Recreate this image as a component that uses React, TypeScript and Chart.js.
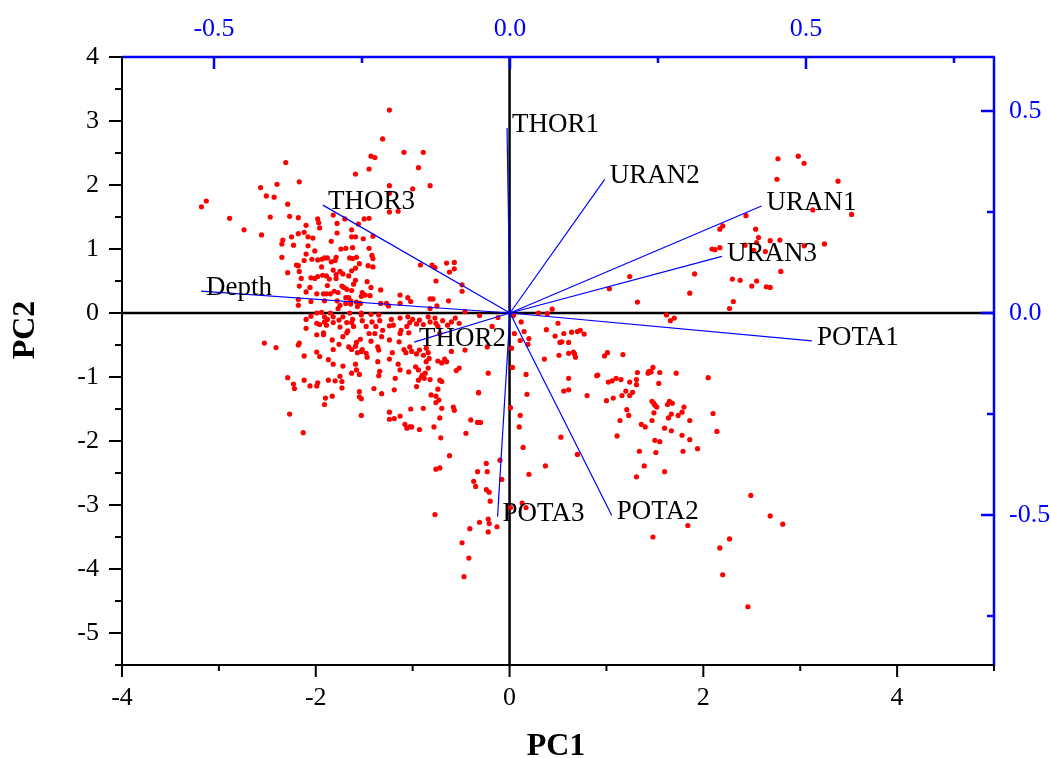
import React, { useEffect, useRef } from 'react';
import { Chart, registerables } from 'chart.js';

Chart.register(...registerables);

// PCA scores (PC1, PC2)
const scores: [number, number][] = [
  [-1.24,3.17],[-1.31,2.72],[-1.09,2.51],[-0.89,2.51],[-1.43,2.45],[-1.39,2.43],[-2.31,2.35],[-0.94,2.27],[-1.45,2.25],[-1.59,2.17],
  [-2.17,2.05],[-2.40,2.01],[-2.57,1.96],[-1.24,1.99],[-0.82,1.99],[-1.00,1.94],[-1.24,1.87],[-2.51,1.83],[-2.43,1.81],[-3.13,1.75],
  [-3.18,1.66],[-2.29,1.70],[-1.24,1.58],[-1.15,1.59],[-1.82,1.53],[-2.89,1.48],[-2.47,1.50],[-2.27,1.51],[-2.18,1.49],[-1.45,1.48],
  [-1.50,1.47],[-1.56,1.39],[-1.98,1.47],[-1.97,1.41],[-2.10,1.37],[-1.78,1.40],[-1.70,1.47],[-2.74,1.30],[-2.56,1.22],[-1.96,1.33],
  [-1.78,1.25],[-1.63,1.30],[-2.18,1.24],[-2.12,1.26],[-2.08,1.19],[-2.03,1.17],[-2.34,1.14],[-2.35,1.08],[-2.25,1.19],[-2.23,1.06],
  [-1.84,1.12],[-1.63,1.19],[-1.59,1.19],[-1.51,1.16],[-1.41,1.20],[-2.08,1.05],[-2.01,0.97],[-1.74,1.00],[-1.69,1.01],[-1.62,1.02],
  [-1.45,1.01],[-2.10,0.92],[-2.04,0.84],[-2.12,0.82],[-1.98,0.83],[-1.94,0.84],[-1.91,0.86],[-1.88,0.86],[-1.79,0.87],[-1.80,0.82],
  [-1.65,0.86],[-1.62,0.85],[-1.58,0.87],[-1.42,0.90],[-1.41,0.85],[-2.35,0.87],[-2.20,0.75],[-2.18,0.74],[-2.17,0.65],[-1.94,0.72],
  [-1.84,0.80],[-1.82,0.67],[-1.75,0.65],[-1.72,0.61],[-1.79,0.60],[-1.63,0.66],[-1.59,0.70],[-1.55,0.77],[-1.46,0.74],[-1.41,0.72],
  [-2.29,0.63],[-2.15,0.54],[-2.05,0.55],[-2.01,0.54],[-1.98,0.57],[-1.93,0.59],[-1.89,0.58],[-1.86,0.53],[-1.79,0.54],[-1.66,0.58],
  [-1.59,0.51],[-1.61,0.45],[-1.47,0.49],[-2.17,0.42],[-2.06,0.40],[-2.10,0.33],[-1.88,0.43],[-1.73,0.42],[-1.71,0.40],[-1.68,0.37],
  [-1.43,0.40],[-1.33,0.36],[-1.77,0.32],[-1.81,0.34],[-1.63,0.35],[-1.52,0.32],[-1.53,0.26],[-1.49,0.28],[-1.44,0.27],[-1.99,0.30],
  [-1.92,0.30],[-1.89,0.30],[-1.85,0.30],[-1.69,0.24],[-1.66,0.24],[-1.78,0.19],[-1.75,0.12],[-1.77,0.07],[-1.69,0.15],[-1.64,0.19],
  [-1.64,0.14],[-1.58,0.17],[-1.57,0.10],[-1.54,0.15],[-2.05,0.18],[-2.18,0.21],[-2.18,0.12],[-1.91,0.19],[-1.13,0.28],[-1.05,0.24],
  [-1.02,0.18],[-1.33,0.15],[-1.27,0.15],[-1.25,0.11],[-1.13,0.15],[-0.92,0.75],[-0.80,0.75],[-0.77,0.71],[-0.65,0.78],[-0.57,0.79],
  [-0.62,0.64],[-0.57,0.69],[-0.76,0.50],[-0.49,0.44],[-0.49,0.34],[-0.82,0.22],[-0.79,0.22],[-0.75,0.11],[-0.63,0.19],[-0.82,0.07],
  [-1.99,0.00],[-1.94,0.01],[-1.85,0.00],[-1.65,0.00],[-1.53,0.00],[-0.46,0.02],
  [-2.10,-0.10],[-2.05,-0.05],[-1.91,-0.06],[-1.88,-0.10],[-1.82,-0.06],[-1.99,-0.16],[-1.96,-0.18],[-1.91,-0.14],[-1.89,-0.19],[-1.82,-0.15],
  [-1.76,-0.11],[-1.72,-0.06],[-1.68,-0.15],[-1.62,-0.10],[-2.10,-0.24],[-1.99,-0.34],[-1.92,-0.31],[-1.92,-0.34],[-1.75,-0.22],[-1.68,-0.31],
  [-1.63,-0.15],[-1.61,-0.21],[-1.52,-0.12],[-1.48,-0.21],[-1.45,-0.32],[-1.53,-0.03],[-1.43,-0.02],[-1.35,-0.03],[-1.42,-0.14],[-1.38,-0.21],
  [-1.34,-0.12],[-1.31,-0.27],[-1.24,-0.20],[-1.22,-0.10],[-1.20,-0.19],[-1.12,-0.27],[-1.13,-0.08],[-1.05,-0.06],[-1.03,-0.15],[-1.00,-0.10],
  [-0.96,-0.17],[-1.06,-0.21],[-1.04,-0.31],[-0.93,-0.11],[-0.89,-0.18],[-0.84,-0.06],[-0.82,-0.14],[-0.77,-0.08],[-0.76,-0.16],[-0.74,-0.21],
  [-0.72,-0.32],[-0.69,-0.12],[-0.64,-0.19],[-0.60,-0.14],[-0.56,-0.08],[-0.52,-0.16],
  [-2.18,-0.50],[-2.17,-0.47],[-2.53,-0.47],[-2.41,-0.54],[-2.12,-0.67],[-1.99,-0.61],[-1.96,-0.68],[-1.83,-0.42],[-1.82,-0.57],[-1.76,-0.49],
  [-1.72,-0.37],[-1.67,-0.28],[-1.66,-0.53],[-1.63,-0.57],[-1.59,-0.52],[-1.58,-0.46],[-1.53,-0.60],[-1.52,-0.57],[-1.54,-0.41],[-1.47,-0.69],
  [-1.43,-0.44],[-1.39,-0.32],[-1.36,-0.53],[-1.35,-0.58],[-1.32,-0.37],[-1.24,-0.42],[-1.21,-0.62],[-1.24,-0.72],[-1.36,-0.76],[-1.14,-0.45],
  [-1.13,-0.32],[-1.09,-0.57],[-1.07,-0.62],[-1.03,-0.53],[-1.01,-0.60],[-0.96,-0.64],[-0.93,-0.58],[-0.89,-0.66],[-0.86,-0.55],[-0.84,-0.62],
  [-0.97,-0.84],[-0.94,-0.89],[-0.86,-0.76],[-0.84,-0.86],[-0.87,-0.94],[-0.91,-1.00],[-0.94,-1.05],[-0.83,-0.71],[-0.74,-0.75],[-0.70,-0.78],
  [-0.67,-0.72],[-0.65,-0.76],[-0.60,-0.60],[-0.55,-0.90],[-0.52,-0.86],[-0.46,-0.58],[-1.04,-0.92],[-1.13,-0.89],[-1.15,-0.80],[-1.34,-0.91],
  [-1.35,-0.98],[-1.18,-1.02],[-1.19,-1.20],[-1.32,-1.26],[-1.40,-1.18],[-1.55,-1.23],[-1.55,-1.31],[-1.53,-1.34],[-1.63,-0.94],[-1.58,-0.89],
  [-1.55,-0.96],[-1.72,-0.83],[-1.59,-0.80],[-1.48,-0.63],[-1.57,-0.62],[-1.87,-0.73],[-1.82,-0.80],[-2.29,-1.01],[-2.23,-1.11],[-2.22,-1.18],
  [-2.12,-1.05],[-2.06,-1.14],[-1.99,-1.14],[-1.98,-1.09],[-1.87,-1.05],[-1.80,-1.06],[-1.75,-0.99],[-1.73,-1.07],[-1.73,-1.17],[-1.90,-1.33],
  [-1.83,-1.30],[-1.91,-1.43],[-2.27,-1.58],[-2.13,-1.87],[-1.53,-1.60],[-1.24,-1.55],[-1.24,-1.66],[-1.19,-1.65],[-1.13,-1.61],[-1.08,-1.74],
  [-1.06,-1.80],[-1.03,-1.78],[-1.01,-1.78],[-1.02,-1.50],[-0.93,-1.82],[-0.89,-1.49],[-0.78,-1.78],[-0.81,-1.28],[-0.76,-1.30],[-0.73,-1.36],
  [-0.70,-1.49],[-0.72,-1.64],[-0.74,-1.19],[-0.76,-1.40],[-0.72,-1.05],[-0.70,-1.07],[-0.82,-1.04],[-0.88,-1.02],[-0.90,-0.97],[-0.96,-1.15],
  [-0.58,-1.47],[-0.57,-1.52],[-0.71,-1.95],[-0.62,-2.23],[-0.76,-2.44],[-0.72,-2.42],[-0.40,-1.67],[-0.45,-1.88],[-0.33,-1.71],[-0.33,-2.48],
  [-0.37,-2.63],[-0.35,-2.71],[-0.32,-1.25],
  [-0.22,-0.94],[-0.32,-1.24],[-0.12,-0.07],[-0.31,-0.04],[-0.18,-0.21],[-0.23,-0.53],[-0.30,-1.71],
  [1.32,0.17],[2.27,0.07],[2.31,0.18],[0.30,0.00],[0.39,-0.01],[0.44,0.06],[0.04,-0.04],[1.62,-0.03],[1.66,-0.12],[1.70,-0.08],
  [0.12,-0.14],[0.50,-0.16],[0.05,-0.32],[0.15,-0.29],[0.38,-0.26],[0.47,-0.36],[0.56,-0.32],[0.64,-0.30],[0.70,-0.29],[0.73,-0.27],
  [0.77,-0.33],[0.11,-0.43],[0.20,-0.40],[0.19,-0.49],[0.52,-0.46],[0.54,-0.45],[0.61,-0.46],[0.02,-0.55],[0.51,-0.66],[0.61,-0.63],
  [0.66,-0.61],[0.67,-0.64],[0.68,-0.69],[0.98,-0.67],[1.01,-0.62],[1.17,-0.65],[0.36,-0.72],[0.03,-0.85],[0.17,-0.96],[0.90,-0.98],
  [0.91,-0.97],[0.61,-1.02],[1.02,-1.08],[1.06,-1.06],[1.10,-1.02],[1.15,-1.04],[1.24,-1.08],[1.32,-0.93],[1.31,-1.04],[1.31,-1.12],
  [1.43,-0.94],[1.44,-0.91],[1.48,-0.85],[1.46,-0.92],[1.55,-0.93],[1.54,-1.10],[1.72,-0.94],[2.05,-1.01],[0.18,-1.27],[0.56,-1.22],
  [0.61,-1.20],[0.80,-1.29],[1.00,-1.37],[1.07,-1.33],[1.16,-1.29],[1.20,-1.22],[1.24,-1.29],[1.27,-1.24],[1.47,-1.38],[1.49,-1.41],
  [1.50,-1.44],[1.52,-1.47],[1.63,-1.43],[1.65,-1.38],[1.68,-1.41],[1.80,-1.47],[1.78,-1.55],[0.01,-1.48],[1.21,-1.51],[1.23,-1.60],
  [1.49,-1.56],[1.67,-1.58],[1.64,-1.64],[1.74,-1.60],[2.10,-1.57],[1.86,-1.68],[0.11,-1.60],[0.10,-1.78],[1.14,-1.68],[1.36,-1.74],
  [1.40,-1.78],[1.47,-1.68],[1.60,-1.80],[1.67,-1.84],[1.78,-1.91],[1.86,-1.98],[2.14,-1.85],[1.11,-1.92],[0.53,-1.94],[1.50,-1.99],
  [1.55,-2.01],[0.14,-2.10],[1.34,-2.16],[1.51,-2.18],[1.79,-2.16],[1.94,-2.12],[0.70,-2.21],[0.37,-2.39],[1.39,-2.39],[1.60,-2.48],
  [0.20,-2.52],[1.31,-2.56],
  [2.77,2.41],[2.98,2.45],[3.04,2.34],[2.76,2.09],[3.39,2.06],[3.13,1.61],[3.53,1.54],[2.44,1.52],[2.17,1.31],[2.20,1.36],
  [2.54,1.31],[2.57,1.18],[2.69,1.13],[2.79,1.14],[2.55,1.10],[2.52,0.98],[2.64,0.96],[3.04,1.05],[3.25,1.08],[2.09,1.00],
  [2.12,0.99],[2.17,1.02],[2.43,1.06],[2.80,0.65],[1.91,0.61],[1.24,0.57],[1.03,0.38],[2.30,0.53],[2.38,0.51],[2.55,0.50],
  [2.50,0.42],[2.65,0.41],[2.69,0.40],[1.86,0.31],
  [-0.24,-2.35],[-0.23,-2.48],[-0.10,-2.30],[-0.24,-2.76],[-0.21,-2.80],[-0.08,-2.60],[-0.20,-2.94],[-0.77,-3.15],[-0.22,-3.22],[-0.21,-3.29],
  [-0.31,-3.27],[-0.41,-3.37],[-0.22,-3.42],[-0.13,-3.34],[-0.49,-3.59],[-0.42,-3.83],[-0.47,-4.12],[0.13,-2.97],[0.17,-3.04],[0.01,-3.04],
  [1.48,-3.50],[1.84,-3.32],[2.49,-2.85],[2.69,-3.17],[2.82,-3.30],[2.27,-3.53],[2.17,-3.67],[2.20,-4.09],[2.46,-4.59],
];

// Variable loadings (top / right axes)
const variables = ['THOR1', 'URAN2', 'URAN1', 'URAN3', 'POTA1', 'POTA2', 'POTA3', 'THOR2', 'THOR3', 'Depth'];
const loadPC1 = [-0.005, 0.160, 0.425, 0.358, 0.510, 0.172, -0.021, -0.162, -0.316, -0.522];
const loadPC2 = [0.458, 0.331, 0.265, 0.140, -0.069, -0.501, -0.504, -0.072, 0.267, 0.054];

// Axis ticks
const pc1Ticks = [-4, -2, 0, 2, 4];
const pc1Minor = [-3, -1, 1, 3, 5];
const pc2Ticks = [-5, -4, -3, -2, -1, 0, 1, 2, 3, 4];
const pc2Minor = [-5.5, -4.5, -3.5, -2.5, -1.5, -0.5, 0.5, 1.5, 2.5, 3.5];
const loadTicks = [-0.5, 0, 0.5];
const loadMinorTop = [-0.25, 0.25, 0.75];
const loadMinorRight = [-0.75, -0.25, 0.25];

const SERIF = "'Liberation Serif', 'Times New Roman', serif";
const BLUE = '#0000ff';

const frame = {
  id: 'biplotFrame',
  beforeDatasetsDraw(chart: any) {
    const { ctx, chartArea: a, scales } = chart;
    const x0 = scales.x.getPixelForValue(0);
    const y0 = scales.y.getPixelForValue(0);
    ctx.save();
    ctx.strokeStyle = '#000';
    ctx.lineWidth = 2.5;
    ctx.beginPath();
    ctx.moveTo(x0, a.top);
    ctx.lineTo(x0, a.bottom);
    ctx.moveTo(a.left, y0);
    ctx.lineTo(a.right, y0);
    ctx.stroke();
    ctx.restore();
  },
  afterDatasetsDraw(chart: any) {
    const { ctx, scales } = chart;
    ctx.save();
    ctx.fillStyle = '#000';
    ctx.font = `27px ${SERIF}`;
    ctx.textAlign = 'left';
    ctx.textBaseline = 'middle';
    variables.forEach((name, i) => {
      const px = scales.x2.getPixelForValue(loadPC1[i]);
      const py = scales.y2.getPixelForValue(loadPC2[i]);
      ctx.fillText(name, px + 5, py - 3);
    });
    ctx.restore();
  },
  afterDraw(chart: any) {
    const { ctx, chartArea: a, scales } = chart;
    const { x, y, x2, y2 } = scales;
    const seg = (x1: number, y1: number, xx: number, yy: number) => {
      ctx.beginPath();
      ctx.moveTo(x1, y1);
      ctx.lineTo(xx, yy);
      ctx.stroke();
    };
    ctx.save();
    ctx.lineCap = 'butt';
    // top & right (blue)
    ctx.strokeStyle = BLUE;
    ctx.lineWidth = 2.5;
    seg(a.left, a.top, a.right + 1, a.top);
    seg(a.right, a.top, a.right, a.bottom + 1);
    loadTicks.forEach((v) => { const p = x2.getPixelForValue(v); seg(p, a.top, p, a.top + 12); });
    loadMinorTop.forEach((v) => { const p = x2.getPixelForValue(v); seg(p, a.top, p, a.top + 6); });
    loadTicks.forEach((v) => { const p = y2.getPixelForValue(v); seg(a.right - 13, p, a.right, p); });
    loadMinorRight.forEach((v) => { const p = y2.getPixelForValue(v); seg(a.right - 7, p, a.right, p); });
    // left & bottom (black)
    ctx.strokeStyle = '#000';
    ctx.lineWidth = 2;
    seg(a.left, a.top - 1, a.left, a.bottom + 1);
    seg(a.left - 1, a.bottom, a.right, a.bottom);
    pc2Ticks.forEach((v) => { const p = y.getPixelForValue(v); seg(a.left - 13, p, a.left, p); });
    pc2Minor.forEach((v) => { const p = y.getPixelForValue(v); seg(a.left - 7, p, a.left, p); });
    pc1Ticks.forEach((v) => { const p = x.getPixelForValue(v); seg(p, a.bottom, p, a.bottom + 12); });
    pc1Minor.forEach((v) => { const p = x.getPixelForValue(v); seg(p, a.bottom, p, a.bottom + 6); });
    // axis titles
    ctx.fillStyle = '#000';
    ctx.font = `bold 32px ${SERIF}`;
    ctx.textAlign = 'center';
    ctx.textBaseline = 'middle';
    ctx.fillText('PC1', 556, 747);
    ctx.translate(26, 330);
    ctx.rotate(-Math.PI / 2);
    ctx.fillText('PC2', 0, 0);
    ctx.restore();
  },
};

const tickFont = { family: SERIF, size: 26 };

export default function App() {
  const ref = useRef<HTMLCanvasElement | null>(null);

  useEffect(() => {
    const canvas = ref.current;
    if (!canvas) return;
    const vectorSets = variables.map((name, i) => ({
      type: 'scatter' as const,
      label: name,
      data: [{ x: 0, y: 0 }, { x: loadPC1[i], y: loadPC2[i] }],
      xAxisID: 'x2',
      yAxisID: 'y2',
      showLine: true,
      borderColor: BLUE,
      borderWidth: 1.2,
      pointRadius: 0,
      order: 0,
    }));
    const chart = new Chart(canvas, {
      type: 'scatter',
      data: {
        datasets: [
          ...vectorSets,
          {
            label: 'Scores',
            data: scores.map(([a, b]) => ({ x: a, y: b })),
            xAxisID: 'x',
            yAxisID: 'y',
            backgroundColor: '#ff0000',
            borderWidth: 0,
            pointRadius: 2.6,
            order: 1,
          },
        ] as any,
      },
      options: {
        animation: false,
        responsive: false,
        devicePixelRatio: 1,
        layout: { padding: 0 },
        plugins: { legend: { display: false }, tooltip: { enabled: false } },
        scales: {
          x: {
            type: 'linear', position: 'bottom', min: -4, max: 5,
            afterBuildTicks: (s: any) => { s.ticks = pc1Ticks.map((v) => ({ value: v })); },
            afterFit: (s: any) => { s.height = 93; },
            ticks: { font: tickFont, color: '#000', padding: 18, maxRotation: 0, autoSkip: false, callback: (v: any) => String(v) },
            grid: { display: false, drawTicks: false },
            border: { display: false },
          },
          y: {
            type: 'linear', position: 'left', min: -5.5, max: 4,
            afterBuildTicks: (s: any) => { s.ticks = pc2Ticks.map((v) => ({ value: v })); },
            afterFit: (s: any) => { s.width = 122; },
            ticks: { font: tickFont, color: '#000', padding: 23, autoSkip: false, callback: (v: any) => String(v) },
            grid: { display: false, drawTicks: false },
            border: { display: false },
          },
          x2: {
            type: 'linear', position: 'top', min: -0.6554, max: 0.8176,
            afterBuildTicks: (s: any) => { s.ticks = loadTicks.map((v) => ({ value: v })); },
            afterFit: (s: any) => { s.height = 57; },
            ticks: { font: tickFont, color: BLUE, padding: 12, maxRotation: 0, autoSkip: false, callback: (v: any) => Number(v).toFixed(1) },
            grid: { display: false, drawTicks: false },
            border: { display: false },
          },
          y2: {
            type: 'linear', position: 'right', min: -0.8713, max: 0.6337,
            afterBuildTicks: (s: any) => { s.ticks = loadTicks.map((v) => ({ value: v })); },
            afterFit: (s: any) => { s.width = 57; },
            ticks: { font: tickFont, color: BLUE, padding: 15, autoSkip: false, callback: (v: any) => Number(v).toFixed(1) },
            grid: { display: false, drawTicks: false },
            border: { display: false },
          },
        },
      } as any,
      plugins: [frame],
    });
    return () => chart.destroy();
  }, []);

  return (
    <div style={{ position: 'absolute', left: 0, top: 0, width: 1051, height: 758, background: '#fff' }}>
      <canvas ref={ref} width={1051} height={758} style={{ display: 'block', width: 1051, height: 758 }} />
    </div>
  );
}
